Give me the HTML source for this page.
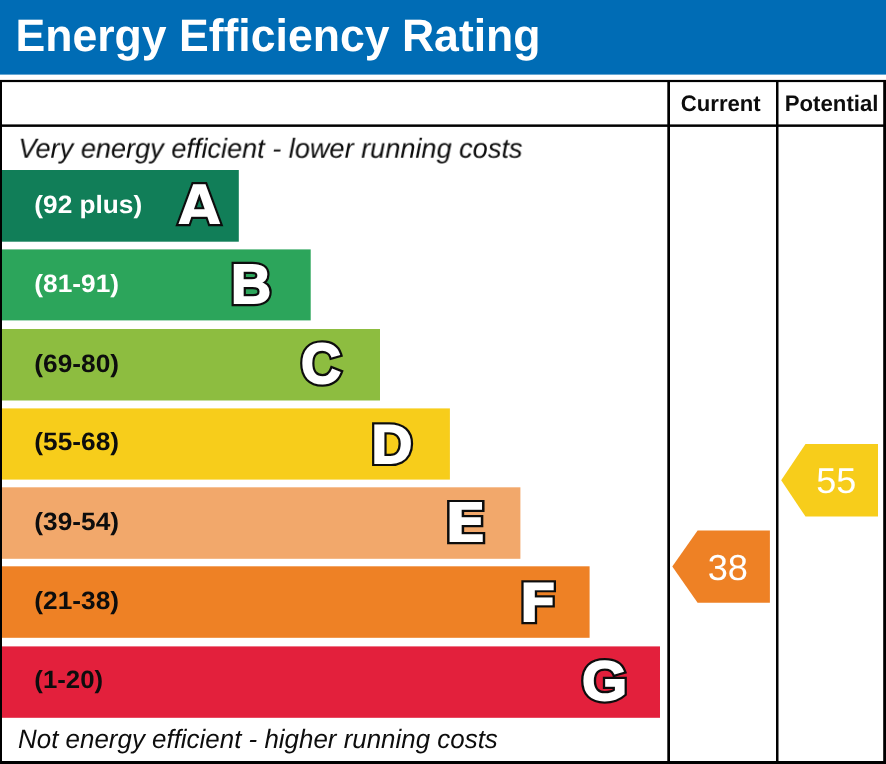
<!DOCTYPE html>
<html lang="en">
<head>
<meta charset="utf-8">
<title>Energy Efficiency Rating</title>
<style>
  html, body { margin: 0; padding: 0; background: #ffffff; }
  body { width: 886px; height: 764px; overflow: hidden; position: relative; }
  svg { position: absolute; left: 0; top: 0; display: block; will-change: transform; }
  text { font-family: "Liberation Sans", Arial, Helvetica, sans-serif; text-rendering: geometricPrecision; }
  .title { font-weight: bold; fill: #ffffff; }
  .hdr { font-weight: bold; fill: #0d0d0d; }
  .note { font-style: italic; fill: #0d0d0d; }
  .rng { font-weight: bold; }
  .w { fill: #ffffff; }
  .k { fill: #0d0d0d; }
  .num { fill: #ffffff; }
  .ltr text { font-weight: bold; text-anchor: middle; stroke-linejoin: miter; stroke-miterlimit: 3; }
  .lb text { font-size: 54.4px; }
  .dv text { font-family: "DejaVu Sans", "Liberation Sans", sans-serif; font-size: 55.1px; }
  .lo { fill: #0d0d0d; stroke: #0d0d0d; }
  .li { fill: #ffffff; stroke: #ffffff; }
  .lb .lo { stroke-width: 6.2px; }
  .lb .li { stroke-width: 1.8px; }
  .dv .lo { stroke-width: 4.4px; }
  .dv .li { stroke-width: 0; }
</style>
</head>
<body>
<svg width="886" height="764" viewBox="0 0 886 764">
  <!-- header -->
  <rect x="0" y="0" width="886" height="74.6" fill="#006cb5"/>
  <text class="title" style="font-size:45.4px" transform="translate(15.45,51.40) scale(0.9820,1)">Energy Efficiency Rating</text>

  <!-- table frame -->
  <g fill="#000000">
    <rect x="0" y="79.9" width="886" height="2.2"/>
    <rect x="0" y="80" width="2" height="684"/>
    <rect x="883.2" y="80" width="2.8" height="684"/>
    <rect x="0" y="761" width="886" height="3"/>
    <rect x="0" y="124.4" width="886" height="2.5"/>
    <rect x="667.3" y="80" width="2.7" height="684"/>
    <rect x="776" y="80" width="2.5" height="684"/>
  </g>

  <text class="hdr" style="font-size:22.4px" transform="translate(680.81,110.70) scale(0.9875,1)">Current</text>
  <text class="hdr" style="font-size:22.4px" transform="translate(784.71,110.70) scale(0.9918,1)">Potential</text>

  <text class="note" style="font-size:27.5px" transform="translate(18.48,157.70) scale(0.9862,1)">Very energy efficient - lower running costs</text>
  <text class="note" style="font-size:26.5px" transform="translate(18.07,747.80) scale(0.9780,1)">Not energy efficient - higher running costs</text>

  <!-- rating bands -->
  <rect x="2" y="170.0" width="236.8" height="71.7" fill="#117e58"/>
  <rect x="2" y="249.4" width="308.7" height="71.0" fill="#2ca55b"/>
  <rect x="2" y="329.0" width="378.0" height="71.5" fill="#8dbd40"/>
  <rect x="2" y="408.4" width="447.9" height="71.2" fill="#f7cd1b"/>
  <rect x="2" y="487.3" width="518.4" height="71.5" fill="#f2a86b"/>
  <rect x="2" y="566.3" width="587.6" height="71.5" fill="#ee8125"/>
  <rect x="2" y="646.4" width="658.0" height="71.4" fill="#e3203c"/>

  <!-- band ranges -->
  <text class="rng w" style="font-size:25px" transform="translate(34.29,213.10) scale(1.0498,1)">(92 plus)</text>
  <text class="rng w" style="font-size:25px" transform="translate(34.29,292.10) scale(1.0511,1)">(81-91)</text>
  <text class="rng k" style="font-size:25px" transform="translate(34.29,372.00) scale(1.0511,1)">(69-80)</text>
  <text class="rng k" style="font-size:25px" transform="translate(34.29,450.10) scale(1.0511,1)">(55-68)</text>
  <text class="rng k" style="font-size:25px" transform="translate(34.29,530.00) scale(1.0511,1)">(39-54)</text>
  <text class="rng k" style="font-size:25px" transform="translate(34.29,609.10) scale(1.0511,1)">(21-38)</text>
  <text class="rng k" style="font-size:25px" transform="translate(34.31,688.10) scale(1.0311,1)">(1-20)</text>

  <!-- band letters -->
  <g class="ltr">
    <g class="dv" transform="translate(199.33,224.4) scale(0.9907,0.991)"><text class="lo">A</text><text class="li">A</text></g>
    <g class="lb" transform="translate(251.1,302.8) scale(1.0203,1.0183)"><text class="lo">B</text><text class="li">B</text></g>
    <g class="lb" transform="translate(320.95,383.05) scale(1.0187,1.0402)"><text class="lo">C</text><text class="li">C</text></g>
    <g class="lb" transform="translate(391.97,462.6) scale(1.0391,1.0069)"><text class="lo">D</text><text class="li">D</text></g>
    <g class="dv" transform="translate(465.62,541.75) scale(1.1592,0.9944)"><text class="lo">E</text><text class="li">E</text></g>
    <g class="dv" transform="translate(538.32,621.6) scale(1.0724,0.9844)"><text class="lo">F</text><text class="li">F</text></g>
    <g class="lb" transform="translate(604.65,700.05) scale(1.0675,1.0201)"><text class="lo">G</text><text class="li">G</text></g>
  </g>

  <!-- current rating -->
  <polygon points="672.3,566.5 697.6,530.4 769.9,530.4 769.9,602.7 697.6,602.7" fill="#ee8125"/>
  <text class="num" style="font-size:36.0px" transform="translate(707.69,579.90) scale(1.0068,1)">38</text>

  <!-- potential rating -->
  <polygon points="781.2,480.3 805.5,444.1 878,444.1 878,516.6 805.5,516.6" fill="#f7cd1b"/>
  <text class="num" style="font-size:36.0px" transform="translate(816.35,493.40) scale(1.0001,1)">55</text>
</svg>
</body>
</html>
